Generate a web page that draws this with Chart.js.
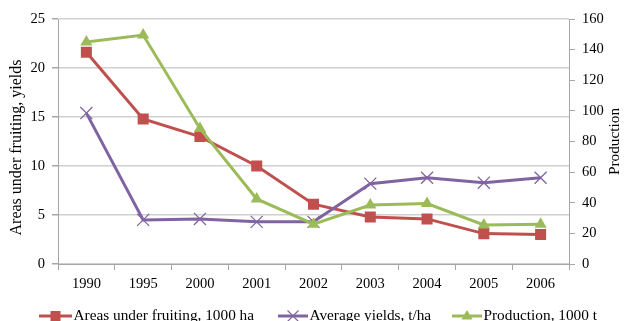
<!DOCTYPE html>
<html>
<head>
<meta charset="utf-8">
<script src="https://cdn.jsdelivr.net/npm/chart.js@4/dist/chart.umd.min.js"></script>
<style>
  html, body { margin: 0; padding: 0; background: #fff; }
  #wrap { position: relative; width: 627px; height: 321px; }
</style>
</head>
<body>
<div id="wrap"><canvas id="chart" width="627" height="321"></canvas></div>
<script>
// Orchard statistics, 1990-2006
const years = ['1990', '1995', '2000', '2001', '2002', '2003', '2004', '2005', '2006'];
const areasUnderFruiting = [21.6, 14.8, 13.0, 10.0, 6.1, 4.8, 4.6, 3.1, 3.0];   // 1000 ha
const averageYields      = [15.4, 4.5, 4.6, 4.3, 4.3, 8.2, 8.8, 8.3, 8.8];      // t/ha
const production         = [145, 149.5, 88.5, 42.5, 26, 38.5, 39.5, 25.5, 26]; // 1000 t

const leftAxis  = { min: 0, max: 25, step: 5 };
const rightAxis = { min: 0, max: 160, step: 20 };

const seriesNames = ['Areas under fruiting, 1000 ha', 'Average yields, t/ha', 'Production, 1000 t'];
const leftTitle = 'Areas under fruiting, yields';
const rightTitle = 'Production';

const RED = '#C0504D', PURPLE = '#8064A2', GREEN = '#9BBB59';
const AXIS = '#a6a6a6', GRID = '#d0d0d0';
const FONT = "'Liberation Serif', 'Times New Roman', serif";
const FSIZE = 14.5;
const LABEL_SIZE = 15.3;
const LEFT_TITLE_SIZE = 16;

// Draws a marker shape on a 2D context (used for legend swatches)
function drawMarker(ctx, kind, x, y, color) {
  ctx.save();
  ctx.fillStyle = color;
  ctx.strokeStyle = color;
  if (kind === 'rect') {
    ctx.fillRect(x - 5, y - 5, 10, 10);
  } else if (kind === 'triangle') {
    ctx.beginPath();
    ctx.moveTo(x, y - 6);
    ctx.lineTo(x + 5.5, y + 3.5);
    ctx.lineTo(x - 5.5, y + 3.5);
    ctx.closePath();
    ctx.fill();
  } else if (kind === 'crossRot') {
    ctx.lineWidth = 1.2;
    ctx.beginPath();
    ctx.moveTo(x - 5.5, y - 5.5); ctx.lineTo(x + 5.5, y + 5.5);
    ctx.moveTo(x + 5.5, y - 5.5); ctx.lineTo(x - 5.5, y + 5.5);
    ctx.stroke();
  }
  ctx.restore();
}

// Legend and axis titles drawn after the chart
const decorations = {
  id: 'decorations',
  afterDraw(chart) {
    const ctx = chart.ctx;
    const area = chart.chartArea;
    ctx.save();
    ctx.fillStyle = '#000';
    ctx.textAlign = 'center';
    ctx.textBaseline = 'middle';
    const midY = (area.top + area.bottom) / 2;

    ctx.save();
    ctx.font = LEFT_TITLE_SIZE + 'px ' + FONT;
    ctx.translate(17, midY + 6);
    ctx.rotate(-Math.PI / 2);
    ctx.fillText(leftTitle, 0, 0);
    ctx.restore();

    ctx.font = LABEL_SIZE + 'px ' + FONT;
    ctx.save();
    ctx.translate(615, midY);
    ctx.rotate(-Math.PI / 2);
    ctx.fillText(rightTitle, 0, 0);
    ctx.restore();

    // legend row: swatch line with marker, then the series name
    const colors = [RED, PURPLE, GREEN];
    const kinds = ['rect', 'crossRot', 'triangle'];
    const starts = [39, 278, 452];
    const swatch = [33, 30, 30];
    const legendY = 316;
    ctx.textAlign = 'left';
    for (let i = 0; i < seriesNames.length; i++) {
      const x = starts[i];
      ctx.save();
      ctx.strokeStyle = colors[i];
      ctx.lineWidth = 3;
      ctx.beginPath();
      ctx.moveTo(x, legendY);
      ctx.lineTo(x + swatch[i], legendY);
      ctx.stroke();
      ctx.restore();
      drawMarker(ctx, kinds[i], x + swatch[i] / 2, legendY, colors[i]);
      ctx.fillText(seriesNames[i], x + swatch[i] + 1.5, legendY);
    }
    ctx.restore();
  }
};

Chart.defaults.font.family = FONT;
Chart.defaults.font.size = FSIZE;
Chart.defaults.color = '#000';

new Chart(document.getElementById('chart'), {
  type: 'line',
  data: {
    labels: years,
    datasets: [
      {
        label: seriesNames[0],
        data: areasUnderFruiting,
        yAxisID: 'y',
        borderColor: RED,
        backgroundColor: RED,
        borderWidth: 3,
        pointStyle: 'rect',
        pointRadius: 7.8,
        pointBorderWidth: 0,
        order: 3
      },
      {
        label: seriesNames[1],
        data: averageYields,
        yAxisID: 'y',
        borderColor: PURPLE,
        backgroundColor: PURPLE,
        borderWidth: 3,
        pointStyle: 'crossRot',
        pointRadius: 8.5,
        pointBorderWidth: 1.3,
        order: 2
      },
      {
        label: seriesNames[2],
        data: production,
        yAxisID: 'y2',
        borderColor: GREEN,
        backgroundColor: GREEN,
        borderWidth: 3,
        pointStyle: 'triangle',
        pointRadius: 7,
        pointBorderWidth: 0,
        order: 1
      }
    ]
  },
  options: {
    responsive: false,
    maintainAspectRatio: false,
    animation: false,
    devicePixelRatio: 1,
    layout: { padding: { top: 19, left: 0, right: 0, bottom: 0 } },
    plugins: { legend: { display: false }, tooltip: { enabled: false } },
    elements: { line: { tension: 0 } },
    scales: {
      x: {
        offset: true,
        grid: { offset: true, drawOnChartArea: false, tickLength: 6, tickColor: AXIS, color: AXIS },
        border: { color: AXIS, width: 1 },
        ticks: { padding: 5, maxRotation: 0, autoSkip: false },
        afterFit(scale) { scale.height = 57; }
      },
      y: {
        position: 'left',
        min: leftAxis.min,
        max: leftAxis.max,
        ticks: { stepSize: leftAxis.step, padding: 7 },
        grid: { color: GRID, lineWidth: 1.5, tickLength: 6, tickColor: AXIS },
        border: { color: AXIS, width: 1 },
        afterFit(scale) { scale.width = 58; }
      },
      y2: {
        position: 'right',
        min: rightAxis.min,
        max: rightAxis.max,
        ticks: { stepSize: rightAxis.step, padding: 7 },
        grid: { drawOnChartArea: false, tickLength: 6, tickColor: AXIS },
        border: { color: AXIS, width: 1 },
        afterFit(scale) { scale.width = 58; }
      }
    }
  },
  plugins: [decorations]
});
</script>
</body>
</html>
